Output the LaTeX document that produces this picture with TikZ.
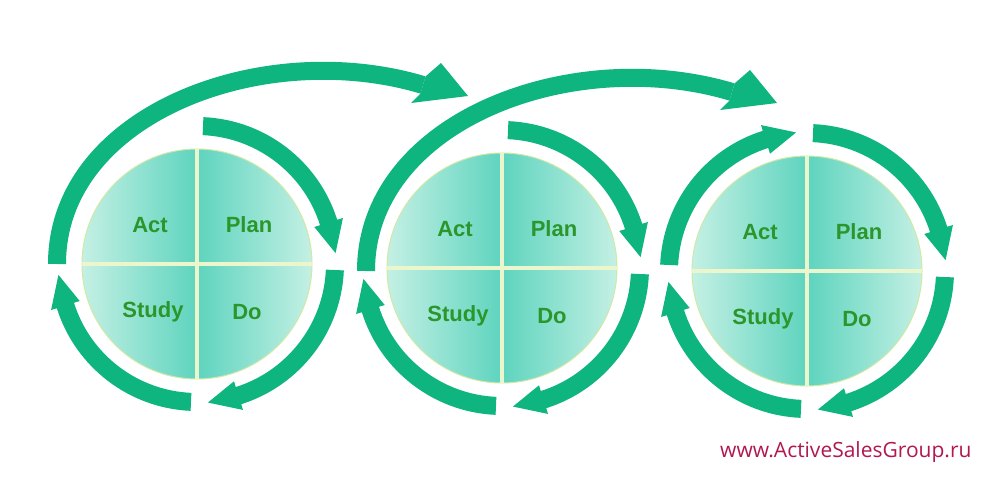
\documentclass[tikz,border=0pt]{standalone}
\usepackage{fontspec}
\setmainfont{Liberation Sans}
\newfontfamily\wmfont{Open Sans}
\usetikzlibrary{calc}
\definecolor{arrowgreen}{RGB}{14,181,127}
\definecolor{discLight}{RGB}{196,240,228}
\definecolor{discDark}{RGB}{94,212,190}
\definecolor{labelgreen}{RGB}{42,150,44}
\definecolor{divider}{RGB}{236,246,204}
\definecolor{rimcol}{RGB}{208,232,168}
\definecolor{wmred}{RGB}{178,24,80}

\tikzset{
  lab/.style={font=\bfseries\fontsize{22}{24}\selectfont, text=labelgreen, inner sep=0pt},
  bigbody/.style={draw=arrowgreen, line width=18pt},
  arrowfill/.style={fill=arrowgreen, draw=none},
}

% one of the four cycle arrows round a disc, clockwise from angle #1
\newcommand{\cyclearrow}[1]{%
  \pgfmathsetmacro{\cyA}{#1}%
  \pgfmathsetmacro{\cyB}{#1-70}%
  \pgfmathsetmacro{\cyC}{#1-83}%
  \path[arrowfill] (\cyA:147) arc[start angle=\cyA, end angle=\cyB, radius=147]
     -- (\cyB:153) -- (\cyC:139) -- (\cyB:123) -- (\cyB:129)
     arc[start angle=\cyB, end angle=\cyA, radius=129] -- cycle;}

% the quartered disc with its four labels; #1 = name prefix
\newcommand{\pdsadisc}[1]{%
  \shade[left color=discLight, right color=discDark] (0,0) -- (-115,0) arc[start angle=180, end angle=90, radius=115] -- cycle;
  \shade[left color=discDark, right color=discLight] (0,0) -- (0,115) arc[start angle=90, end angle=0, radius=115] -- cycle;
  \shade[left color=discLight, right color=discDark] (0,0) -- (-115,0) arc[start angle=180, end angle=270, radius=115] -- cycle;
  \shade[left color=discDark, right color=discLight] (0,0) -- (0,-115) arc[start angle=270, end angle=360, radius=115] -- cycle;
  \draw[rimcol, line width=1pt] (0,0) circle[radius=115];
  \draw[divider, line width=3.5pt] (-115,0) -- (115,0) (0,-115) -- (0,115);
  \node[lab] (#1act) at (-47,39) {Act};
  \node[lab] (#1plan) at (52,39) {Plan};
  \node[lab] (#1study) at (-44,-48) {Study};
  \node[lab] (#1do) at (50,-48) {Do};
}

% the long arrow from the left of one disc over to the next
\newcommand{\bigarrow}{%
  \draw[bigbody] (366,209) .. controls (366,359) and (572,436) .. (732,388);
  \path[arrowfill] (734.6,396.6) -- (750,410) -- (777,377) -- (720,370) -- (729.4,379.4) -- cycle;}

\begin{document}
\begin{tikzpicture}[x=1pt, y=1pt]
\useasboundingbox (0,0) rectangle (1000,480);
\fill[white] (0,0) rectangle (1000,480);

% disc 1
\begin{scope}[shift={(197,216)}]
  \pdsadisc{a}
  \cyclearrow{87.5}
  \cyclearrow{-2.5}
  \cyclearrow{-92.5}
\end{scope}
% disc 2
\begin{scope}[shift={(502,212)}]
  \pdsadisc{b}
  \cyclearrow{87.5}
  \cyclearrow{-2.5}
  \cyclearrow{-92.5}
\end{scope}
% disc 3
\begin{scope}[shift={(807,209)}]
  \pdsadisc{c}
  \cyclearrow{87.5}
  \cyclearrow{-2.5}
  \cyclearrow{-92.5}
  \cyclearrow{-182.5}
\end{scope}

% long arrows between the discs
\begin{scope}[shift={(-309,7)}]
  \bigarrow
\end{scope}
\bigarrow

\node[font=\wmfont\fontsize{21}{24}\selectfont, text=wmred, anchor=base west, inner sep=0pt] (site) at (720,23) {www.ActiveSalesGroup.ru};
\end{tikzpicture}
\end{document}
